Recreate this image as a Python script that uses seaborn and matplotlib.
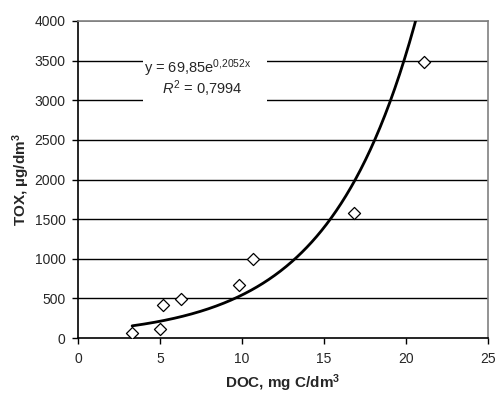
import numpy as np
import pandas as pd
import matplotlib
matplotlib.use("Agg")
import matplotlib.pyplot as plt
import seaborn as sns

# Data
doc = [3.3, 5.0, 5.2, 6.3, 9.8, 10.7, 16.8, 21.1]
tox = [63, 112, 418, 495, 668, 1000, 1578, 3485]
x_ticks = [0, 5, 10, 15, 20, 25]
y_ticks = [0, 500, 1000, 1500, 2000, 2500, 3000, 3500, 4000]
eq_text = r"y = 69,85e$^{\mathrm{0{,}2052x}}$"
r2_text = r"$R^{\mathrm{2}}$ = 0,7994"

sns.set_style("white")
plt.rcParams["font.family"] = ["Liberation Sans", "DejaVu Sans"]
plt.rcParams["mathtext.fontset"] = "custom"
plt.rcParams["mathtext.rm"] = "Liberation Sans"
plt.rcParams["mathtext.it"] = "Liberation Sans:italic"
plt.rcParams["mathtext.bf"] = "Liberation Sans:bold"

df = pd.DataFrame({"DOC": doc, "TOX": tox})

# exponential trend fitted to the data (as a spreadsheet trendline does)
b, lna = np.polyfit(df["DOC"], np.log(df["TOX"]), 1)
xs = np.linspace(min(doc), max(doc), 300)
trend = pd.DataFrame({"DOC": xs, "TOX": np.exp(lna) * np.exp(b * xs)})

fig = plt.figure(figsize=(4.96, 3.97), dpi=100)
ax = fig.add_axes([78 / 496, 1 - 338 / 397, 410 / 496, 317 / 397])

for yv in y_ticks[1:-1]:
    ax.axhline(yv, color="black", lw=1.0, zorder=1)
ax.axhline(4000, color="#808080", lw=1.2, zorder=1)

sns.lineplot(data=trend, x="DOC", y="TOX", ax=ax, color="black", lw=2.0, zorder=3)
sns.scatterplot(data=df, x="DOC", y="TOX", ax=ax, marker="D", s=38,
                facecolor="white", edgecolor="black", linewidth=0.9, zorder=4)

ax.set_xlim(0, 25)
ax.set_ylim(0, 4000)
ax.set_xticks(x_ticks)
ax.set_yticks(y_ticks)
ax.tick_params(axis="both", direction="out", length=4, width=1, color="black",
               labelsize=10, pad=6, left=True, bottom=True)
ax.tick_params(axis="y", pad=5)

for side in ["left", "bottom"]:
    ax.spines[side].set_color("black")
    ax.spines[side].set_linewidth(1.2)
for side in ["right", "top"]:
    ax.spines[side].set_color("#808080")
    ax.spines[side].set_linewidth(1.2)

ax.set_xlabel("DOC, mg C/dm$^{\\mathbf{3}}$", fontsize=11, fontweight="bold", labelpad=5)
ax.set_ylabel("TOX, µg/dm$^{\\mathbf{3}}$", fontsize=11, fontweight="bold", labelpad=2)

# white label box covering the grid lines
ax.add_patch(plt.Rectangle((3.96, 2780), 7.56, 800, transform=ax.transData,
                           facecolor="white", edgecolor="none", zorder=2))
ax.text(4.05, 3400, eq_text, fontsize=10.5, ha="left", va="center", zorder=5)
ax.text(5.1, 3140, r2_text, fontsize=10.5, ha="left", va="center", zorder=5)

fig.savefig("out.png", dpi=100)
